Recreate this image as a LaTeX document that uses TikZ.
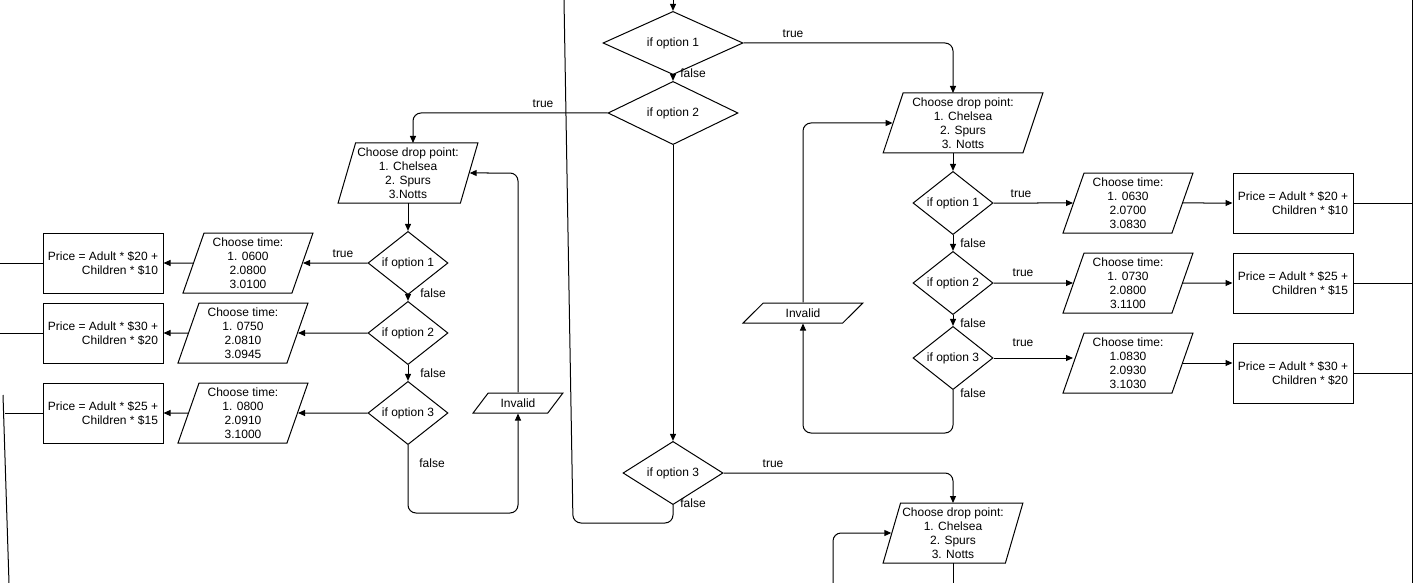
\documentclass[tikz,border=0pt]{standalone}
\usepackage{fontspec}
\setmainfont{Liberation Sans}
\usetikzlibrary{shapes.geometric,arrows.meta}
\begin{document}
\begin{tikzpicture}[x=1pt,y=-1pt,line width=1pt,
  every node/.style={font=\fontsize{12}{14}\selectfont},
  dia/.style={draw,diamond,inner sep=0pt},
  par/.style={draw,trapezium,trapezium left angle=#1,trapezium right angle=180-#1,trapezium stretches=true,inner sep=0pt,align=center,minimum height=60pt},
  par/.default=71.6,
  inv/.style={draw,trapezium,trapezium left angle=45,trapezium right angle=135,trapezium stretches=true,inner sep=0pt,minimum height=20pt},
  box/.style={draw,rectangle,minimum width=120pt,minimum height=60pt,inner sep=1pt,align=right},
  lbl/.style={inner sep=0pt},
  arr/.style={-{Triangle[length=7pt,width=6pt]}},
  rc/.style={rounded corners=8pt}]
\useasboundingbox (0,0) rectangle (1416,583);
% centre column
\coordinate (top) at (673,0);
\node[dia,minimum width=140pt,minimum height=38pt] (d1) at (673,43) {if option 1};
\node[dia,minimum width=130pt,minimum height=39pt] (d2) at (673,113) {if option 2};
\node[dia,minimum width=100pt,minimum height=39pt] (d3) at (673,473) {if option 3};
\draw[arr] (top) -- (d1.north);
\draw[arr] (d1.south) -- (d2.north);
\node[lbl] at (693,73) {false};
\draw[arr] (d2.south) -- (d3.north);
\coordinate (c3a) at (573,523);
\coordinate (c3b) at (564,0);
\draw[rc] (d3.south) -- (673,523) -- (c3a) -- (c3b);
\node[lbl] at (693,503) {false};
% right upper
\node[par,minimum width=160pt] (p1) at (963,123) {Choose drop point:\\1. Chelsea\\2. Spurs\\3. Notts};
\draw[arr,rc] (d1.east) -- (953,43) -- (953,93);
\node[lbl] at (793,34) {true};
\node[dia,minimum width=80pt,minimum height=40pt] (r1) at (953,203) {if option 1};
\node[dia,minimum width=80pt,minimum height=40pt] (r2) at (953,283) {if option 2};
\node[dia,minimum width=80pt,minimum height=30pt] (r3) at (953,358) {if option 3};
\draw[arr] (953,153) -- (r1.north);
\draw[arr] (r1.south) -- (r2.north);
\draw[arr] (r2.south) -- (r3.north);
\node[lbl] at (973,243) {false};
\node[lbl] at (973,323) {false};
\node[lbl] at (973,393) {false};
\node[par,minimum width=130pt] (t1) at (1128,203) {Choose time:\\1. 0630\\2.0700\\3.0830};
\node[par,minimum width=130pt] (t2) at (1128,283) {Choose time:\\1. 0730\\2.0800\\3.1100};
\node[par,minimum width=130pt] (t3) at (1128,363) {Choose time:\\1.0830\\2.0930\\3.1030};
\draw[arr] (r1.east) -- (t1.west);
\draw[arr] (r2.east) -- (t2.west);
\draw[arr] (r3.east) -- (r3.east -| t3.west);
\node[lbl] at (1021,194) {true};
\node[lbl] at (1023,273) {true};
\node[lbl] at (1023,343) {true};
\node[box] (b1) at (1293,203) {Price = Adult * \$20 +\hspace{16pt}\\Children * \$10};
\node[box] (b2) at (1293,283) {Price = Adult * \$25 +\hspace{16pt}\\Children * \$15};
\node[box] (b3) at (1293,373) {Price = Adult * \$30 +\hspace{16pt}\\Children * \$20};
\draw[arr] (t1.east) -- (b1.west);
\draw[arr] (t2.east) -- (b2.west);
\draw[arr] (t3.east) -- (t3.east -| b3.west);
\coordinate (rt) at (1412,0);
\coordinate (rb) at (1412,583);
\draw (rt) -- (rb);
\draw (b1.east) -- (b1.east -| rt);
\draw (b2.east) -- (b2.east -| rt);
\draw (b3.east) -- (b3.east -| rt);
\node[inv,minimum width=120pt] (i1) at (803,313) {Invalid};
\draw[arr,rc] (r3.south) -- (953,433) -- (803,433) -- (i1.south);
\draw[arr,rc] (i1.north) -- (803,123) -- (p1.west);
% right lower
\node[par,minimum width=140pt] (p3) at (953,533) {Choose drop point:\\1. Chelsea\\2. Spurs\\3. Notts};
\draw[arr,rc] (d3.east) -- (953,473) -- (953,503);
\node[lbl] at (773,464) {true};
\coordinate (p3b) at (953,583);
\draw (953,563) -- (p3b);
\coordinate (p3in) at (833,583);
\draw[arr,rc] (p3in) -- (833,533) -- (p3.west);
% left section
\node[par,minimum width=140pt] (pl) at (408,173) {Choose drop point:\\1. Chelsea\\2. Spurs\\3.Notts};
\draw[arr,rc] (d2.west) -- (413,113) -- (413,143);
\node[lbl] at (543,104) {true};
\node[dia,minimum width=80pt,minimum height=40pt] (l1) at (408,263) {if option 1};
\node[dia,minimum width=80pt,minimum height=40pt] (l2) at (408,333) {if option 2};
\node[dia,minimum width=80pt,minimum height=40pt] (l3) at (408,413) {if option 3};
\draw[arr] (408,203) -- (l1.north);
\draw[arr] (l1.south) -- (l2.north);
\draw[arr] (l2.south) -- (l3.north);
\node[lbl] at (433,293) {false};
\node[lbl] at (433,373) {false};
\node[lbl] at (432,463) {false};
\node[par,minimum width=130pt] (lt1) at (248,263) {Choose time:\\1. 0600\\2.0800\\3.0100};
\node[par,minimum width=130pt] (lt2) at (243,333) {Choose time:\\1. 0750\\2.0810\\3.0945};
\node[par,minimum width=130pt] (lt3) at (243,413) {Choose time:\\1. 0800\\2.0910\\3.1000};
\draw[arr] (l1.west) -- (lt1.east);
\draw[arr] (l2.west) -- (lt2.east);
\draw[arr] (l3.west) -- (lt3.east);
\node[lbl] at (343,254) {true};
\node[box] (lb1) at (103,263) {Price = Adult * \$20 +\hspace{16pt}\\Children * \$10};
\node[box] (lb2) at (103,333) {Price = Adult * \$30 +\hspace{16pt}\\Children * \$20};
\node[box] (lb3) at (103,413) {Price = Adult * \$25 +\hspace{16pt}\\Children * \$15};
\draw[arr] (lt1.west) -- (lb1.east);
\draw[arr] (lt2.west) -- (lb2.east);
\draw[arr] (lt3.west) -- (lb3.east);
\coordinate (e1) at (0,263);
\coordinate (e2) at (0,333);
\coordinate (e3) at (5,413);
\draw (lb1.west) -- (e1);
\draw (lb2.west) -- (e2);
\draw (lb3.west) -- (e3);
\coordinate (s1) at (3,395);
\coordinate (s2) at (9,583);
\draw (s1) -- (s2);
\node[inv,minimum width=90pt] (i2) at (518,403) {Invalid};
\draw[arr,rc] (l3.south) -- (408,513) -- (518,513) -- (i2.south);
\draw[arr,rc] (i2.north) -- (518,173) -- (pl.east);
\end{tikzpicture}
\end{document}
